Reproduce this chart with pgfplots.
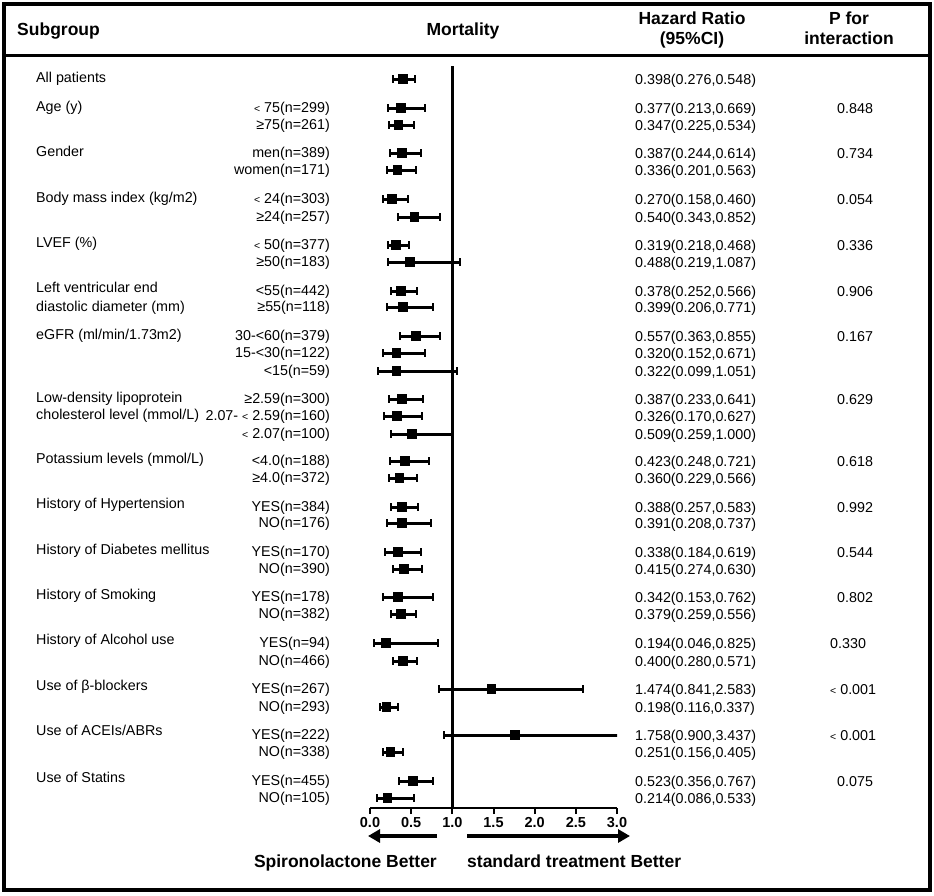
\documentclass[border=0pt]{standalone}
\usepackage{pgfplots}
\pgfplotsset{compat=1.18}
\usepackage{pgfplotstable}
\usepackage{fontspec}
\setmainfont{Liberation Sans}
\usetikzlibrary{arrows.meta}

\newcommand\bodyfont{\fontsize{14.3}{16}\selectfont}
\newcommand\headfont{\bfseries\fontsize{17.5}{20}\selectfont}
\newcommand\slt{{\fontsize{10.5}{12}\selectfont<}}

% y = vertical position (row), hr = hazard ratio, lo/hi = 95% CI
\pgfplotstableread{
y   hr    lo    hi
79  0.398 0.276 0.548
108 0.377 0.213 0.669
125 0.347 0.225 0.534
153 0.387 0.244 0.614
170 0.336 0.201 0.563
199 0.270 0.158 0.460
217 0.540 0.343 0.852
245 0.319 0.218 0.468
262 0.488 0.219 1.087
291 0.378 0.252 0.566
307 0.399 0.206 0.771
336 0.557 0.363 0.855
353 0.320 0.152 0.671
371 0.322 0.099 1.051
399 0.387 0.233 0.641
416 0.326 0.170 0.627
434 0.509 0.259 1.000
461 0.423 0.248 0.721
478 0.360 0.229 0.566
507 0.388 0.257 0.583
523 0.391 0.208 0.737
552 0.338 0.184 0.619
569 0.415 0.274 0.630
597 0.342 0.153 0.762
614 0.379 0.259 0.556
643 0.194 0.046 0.825
661 0.400 0.280 0.571
689 1.474 0.841 2.583
707 0.198 0.116 0.337
735 1.758 0.900 3.437
752 0.251 0.156 0.405
781 0.523 0.356 0.767
798 0.214 0.086 0.533
}\forestdata

\begin{document}
\begin{tikzpicture}
\useasboundingbox (0pt,0pt) rectangle (934pt,-895pt);
\begin{axis}[
  at={(370pt,-808pt)}, anchor=south west,
  scale only axis, width=247pt, height=748pt,
  xmin=0, xmax=3, ymin=60, ymax=808, y dir=reverse,
  axis x line*=bottom, axis y line=none,
  x axis line style={line width=2.5pt, -},
  xtick={0,0.5,1,1.5,2,2.5,3},
  xticklabels={0.0,0.5,1.0,1.5,2.0,2.5,3.0},
  xticklabel style={font=\bfseries\fontsize{14.5}{16}\selectfont, inner sep=0pt, yshift=-3pt},
  major tick length=6pt, tick align=outside,
  tick style={line width=2pt, black},
  ytick=\empty,
  clip=true,
]
\addplot[black, line width=2.5pt] coordinates {(1,66) (1,808)};
\addplot[black, line width=3pt, mark=square*, mark size=4.3pt,
  only marks,
  mark options={draw=none, fill=black, line width=0pt},
  error bars/.cd, x dir=both, x explicit,
  error mark=|,
  error bar style={line width=3pt, draw=black, solid},
  error mark options={line width=2pt, mark size=3.6pt, draw=black, rotate=0}]
  table[x=hr, y=y,
    x error plus expr=\thisrow{hi}-\thisrow{hr},
    x error minus expr=\thisrow{hr}-\thisrow{lo}] {\forestdata};
\end{axis}

\begin{scope}[x=1pt, y=-1pt, every node/.style={inner sep=0pt, font=\bodyfont}]
  % frame
  \draw[line width=4pt] (3.5,4) rectangle (930,890);
  \draw[line width=3pt] (3.5,55) -- (930,55);
  % header
  \node[anchor=base west, font=\headfont] at (17,35) {Subgroup};
  \node[anchor=base, font=\headfont] at (463,35) {Mortality};
  \node[anchor=base, font=\headfont] at (692,24) {Hazard Ratio};
  \node[anchor=base, font=\headfont] at (692,44) {(95\%CI)};
  \node[anchor=base, font=\headfont] at (849,24) {P for};
  \node[anchor=base, font=\headfont] at (849,44) {interaction};
  % group labels
  \foreach \y/\t in {82/{All patients}, 111/{Age (y)}, 156/{Gender},
    202/{Body mass index (kg/m2)}, 247/{LVEF (\%)},
    292/{Left ventricular end}, 311/{diastolic diameter (mm)},
    339/{eGFR (ml/min/1.73m2)}, 402/{Low-density lipoprotein},
    419/{cholesterol level (mmol/L)}, 463/{Potassium levels (mmol/L)},
    508/{History of Hypertension}, 554/{History of Diabetes mellitus},
    599/{History of Smoking}, 644/{History of Alcohol use},
    690/{Use of β-blockers}, 735/{Use of ACEIs/ABRs}, 782/{Use of Statins}}
    \node[anchor=base west] at (36,\y) {\t};
  % subgroup labels and HR text
  \foreach \y/\s/\h in {
    79/{}/{0.398(0.276,0.548)},
    108/{\slt\ 75(n=299)}/{0.377(0.213,0.669)},
    125/{≥75(n=261)}/{0.347(0.225,0.534)},
    153/{men(n=389)}/{0.387(0.244,0.614)},
    170/{women(n=171)}/{0.336(0.201,0.563)},
    199/{\slt\ 24(n=303)}/{0.270(0.158,0.460)},
    217/{≥24(n=257)}/{0.540(0.343,0.852)},
    245/{\slt\ 50(n=377)}/{0.319(0.218,0.468)},
    262/{≥50(n=183)}/{0.488(0.219,1.087)},
    291/{<55(n=442)}/{0.378(0.252,0.566)},
    307/{≥55(n=118)}/{0.399(0.206,0.771)},
    336/{30-<60(n=379)}/{0.557(0.363,0.855)},
    353/{15-<30(n=122)}/{0.320(0.152,0.671)},
    371/{<15(n=59)}/{0.322(0.099,1.051)},
    399/{≥2.59(n=300)}/{0.387(0.233,0.641)},
    416/{2.07- \slt\ 2.59(n=160)}/{0.326(0.170,0.627)},
    434/{\slt\ 2.07(n=100)}/{0.509(0.259,1.000)},
    461/{<4.0(n=188)}/{0.423(0.248,0.721)},
    478/{≥4.0(n=372)}/{0.360(0.229,0.566)},
    507/{YES(n=384)}/{0.388(0.257,0.583)},
    523/{NO(n=176)}/{0.391(0.208,0.737)},
    552/{YES(n=170)}/{0.338(0.184,0.619)},
    569/{NO(n=390)}/{0.415(0.274,0.630)},
    597/{YES(n=178)}/{0.342(0.153,0.762)},
    614/{NO(n=382)}/{0.379(0.259,0.556)},
    643/{YES(n=94)}/{0.194(0.046,0.825)},
    661/{NO(n=466)}/{0.400(0.280,0.571)},
    689/{YES(n=267)}/{1.474(0.841,2.583)},
    707/{NO(n=293)}/{0.198(0.116,0.337)},
    735/{YES(n=222)}/{1.758(0.900,3.437)},
    752/{NO(n=338)}/{0.251(0.156,0.405)},
    781/{YES(n=455)}/{0.523(0.356,0.767)},
    798/{NO(n=105)}/{0.214(0.086,0.533)}}
  {
    \node[anchor=base east] at (330,\y+4) {\s};
    \node[anchor=base west] at (635,\y+5) {\h};
  }
  % P for interaction
  \foreach \y/\p in {108/0.848, 153/0.734, 199/0.054, 245/0.336, 291/0.906,
    336/0.167, 399/0.629, 461/0.618, 507/0.992, 552/0.544, 597/0.802,
    781/0.075}
    \node[anchor=base west] at (837,\y+5) {\p};
  \node[anchor=base west] at (830,648) {0.330};
  \node[anchor=base west] at (830,694) {\slt\ 0.001};
  \node[anchor=base west] at (830,740) {\slt\ 0.001};
  % direction arrows
  \draw[line width=3.5pt, -{Triangle[length=12pt, width=13pt]}] (437,836) -- (368,836);
  \draw[line width=3.5pt, -{Triangle[length=12pt, width=13pt]}] (467,836) -- (630,836);
  \node[anchor=base east, font=\bfseries\fontsize{17.5}{20}\selectfont] at (437,867) {Spironolactone Better};
  \node[anchor=base west, font=\bfseries\fontsize{17.5}{20}\selectfont] at (467,867) {standard treatment Better};
\end{scope}
\end{tikzpicture}
\end{document}
